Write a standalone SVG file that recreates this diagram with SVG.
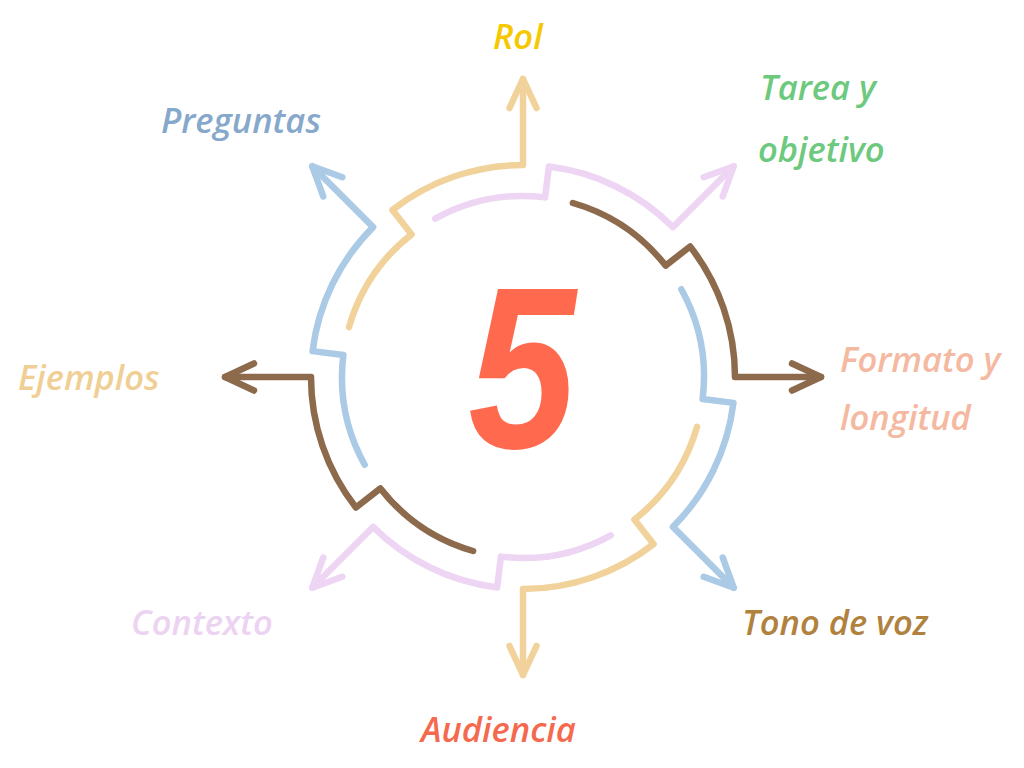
<svg xmlns="http://www.w3.org/2000/svg" width="1024" height="768" viewBox="0 0 1024 768">
  <style>
    .seg { fill: none; stroke-width: 6.5; stroke-linecap: round; stroke-linejoin: round; }
    .yellow { stroke: #F1D29A; }
    .pink { stroke: #EDD5F3; }
    .brown { stroke: #8C6A4B; }
    .blue { stroke: #AACAE6; }
    .lbl { font-family: "Open Sans", "Noto Sans", "Liberation Sans", sans-serif; font-style: italic; font-weight: 600; font-size: 34.5px; }
    .five { font-family: "Liberation Sans", Arial, sans-serif; font-weight: bold; font-style: italic; font-size: 230px; fill: #FF6A4E; }
  </style>
  <defs>
    <g id="segment">
      <path d="M349,327.1 A181,181 0 0 1 411.6,234.4 L392.5,209.9 A212,212 0 0 1 523,165 L523,79"/>
      <path d="M509.5,108 L523,79 L536.5,108"/>
    </g>
  </defs>
  <rect width="1024" height="768" fill="#FFFFFF"/>
  <g id="connectors">
    <use href="#segment" class="seg yellow" transform="rotate(0 523 377)"/>
    <use href="#segment" class="seg pink" transform="rotate(45 523 377)"/>
    <use href="#segment" class="seg brown" transform="rotate(90 523 377)"/>
    <use href="#segment" class="seg blue" transform="rotate(135 523 377)"/>
    <use href="#segment" class="seg yellow" transform="rotate(180 523 377)"/>
    <use href="#segment" class="seg pink" transform="rotate(225 523 377)"/>
    <use href="#segment" class="seg brown" transform="rotate(270 523 377)"/>
    <use href="#segment" class="seg blue" transform="rotate(315 523 377)"/>
  </g>
  <g id="center">
    <text class="five" x="522" y="448" text-anchor="middle" transform="translate(522 0) scale(0.84 1) translate(-522 0)">5</text>
  </g>
  <g id="rol"><text class="lbl" x="493" y="49" fill="#F5C800">Rol</text></g>
  <g id="tarea"><text class="lbl" x="760" y="100" fill="#6DC97E">Tarea y</text><text class="lbl" x="758" y="162" fill="#6DC97E">objetivo</text></g>
  <g id="formato"><text class="lbl" x="840" y="372" fill="#F4B9A0">Formato y</text><text class="lbl" x="840" y="430" fill="#F4B9A0">longitud</text></g>
  <g id="tono"><text class="lbl" x="742" y="635" fill="#B0823E">Tono de voz</text></g>
  <g id="audiencia"><text class="lbl" x="421" y="742" fill="#F46A4E">Audiencia</text></g>
  <g id="contexto"><text class="lbl" x="131" y="635" fill="#EDD3F2">Contexto</text></g>
  <g id="ejemplos"><text class="lbl" x="18" y="390" fill="#F0CF94">Ejemplos</text></g>
  <g id="preguntas"><text class="lbl" x="161" y="133" fill="#86A8CB">Preguntas</text></g>
</svg>
